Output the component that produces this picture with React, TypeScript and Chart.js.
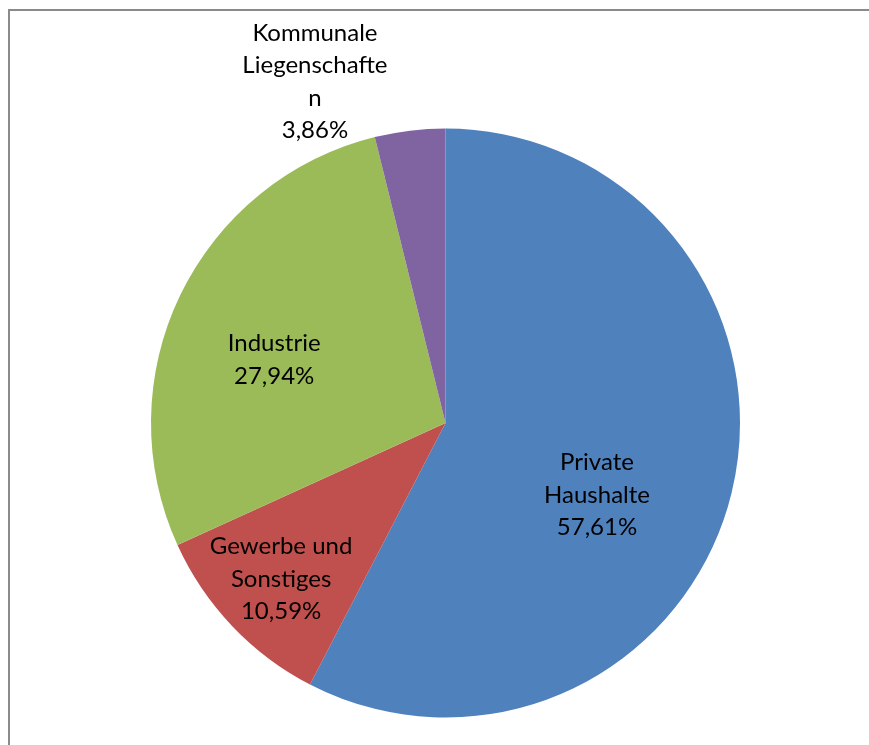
import React, { useEffect, useRef } from "react";
import { Chart, registerables } from "chart.js";

Chart.register(...registerables);

const categories = ["Private Haushalte", "Gewerbe und Sonstiges", "Industrie", "Kommunale Liegenschaften"];
const values = [57.61, 10.59, 27.94, 3.86];
const valueLabels = ["57,61%", "10,59%", "27,94%", "3,86%"];
const labelLines = [
  ["Private", "Haushalte"],
  ["Gewerbe und", "Sonstiges"],
  ["Industrie"],
  ["Kommunale", "Liegenschafte", "n"],
];
const colors = ["#4F81BD", "#C0504D", "#9BBB59", "#8064A2"];

// label placement: radial factor (of outer radius) and angle offset (deg) relative to slice mid-angle
const labelPlacement = [
  { f: 0.57, da: 11.8 },
  { f: 0.77, da: 0 },
  { f: 0.62, da: -5.6 },
  { f: 1.24, da: -14 },
];

const framePlugin = {
  id: "frame",
  beforeDraw(chart: any) {
    const ctx = chart.ctx;
    ctx.save();
    ctx.strokeStyle = "#8a8a8a";
    ctx.lineWidth = 2;
    ctx.beginPath();
    ctx.moveTo(9, chart.height);
    ctx.lineTo(9, 10);
    ctx.lineTo(chart.width, 10);
    ctx.stroke();
    ctx.restore();
  },
};

const labelPlugin = {
  id: "sliceLabels",
  afterDatasetsDraw(chart: any) {
    const ctx = chart.ctx;
    const meta = chart.getDatasetMeta(0);
    ctx.save();
    ctx.font = '24px Lato, "Open Sans", sans-serif';
    ctx.fillStyle = "#000";
    ctx.textAlign = "center";
    ctx.textBaseline = "middle";
    const lh = 32.5;
    meta.data.forEach((arc: any, i: number) => {
      const { x, y, startAngle, endAngle, outerRadius } = arc.getProps(
        ["x", "y", "startAngle", "endAngle", "outerRadius"],
        true
      );
      const p = labelPlacement[i];
      const mid = (startAngle + endAngle) / 2 + (p.da * Math.PI) / 180;
      const cx = x + Math.cos(mid) * outerRadius * p.f;
      const cy = y + Math.sin(mid) * outerRadius * p.f;
      const lines = [...labelLines[i], valueLabels[i]];
      const top = cy - ((lines.length - 1) * lh) / 2;
      lines.forEach((t, j) => ctx.fillText(t, cx, top + j * lh));
    });
    ctx.restore();
  },
};

export default function App() {
  const ref = useRef<HTMLCanvasElement>(null);
  useEffect(() => {
    if (!ref.current) return;
    const chart = new Chart(ref.current, {
      type: "pie",
      data: {
        labels: categories,
        datasets: [
          {
            data: values,
            backgroundColor: colors,
            borderWidth: 0,
          },
        ],
      },
      options: {
        animation: false,
        responsive: false,
        maintainAspectRatio: false,
        layout: { padding: { left: 151, top: 128, right: 129, bottom: 27 } },
        plugins: {
          legend: { display: false },
          tooltip: { enabled: false },
        },
      },
      plugins: [framePlugin, labelPlugin],
    });
    return () => chart.destroy();
  }, []);
  return (
    <div>
      <canvas
        ref={ref}
        width={869}
        height={745}
        style={{ position: "fixed", left: 0, top: 0, width: 869, height: 745 }}
      />
    </div>
  );
}
